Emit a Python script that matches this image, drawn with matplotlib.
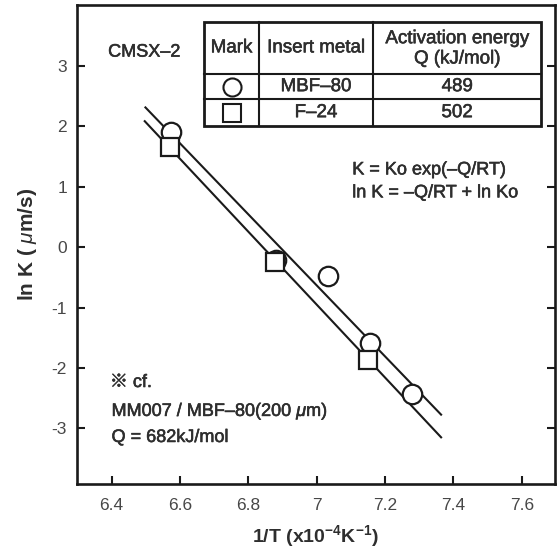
import matplotlib
matplotlib.use('Agg')
import matplotlib.pyplot as plt
import matplotlib.patheffects as pe
import numpy as np

plt.rcParams['font.family'] = ['Liberation Sans', 'Noto Sans CJK JP', 'DejaVu Sans']
plt.rcParams['axes.unicode_minus'] = False
plt.rcParams['mathtext.fontset'] = 'custom'
plt.rcParams['mathtext.rm'] = 'Liberation Sans'
plt.rcParams['mathtext.it'] = 'Liberation Sans:italic'
plt.rcParams['mathtext.bf'] = 'Liberation Sans:bold'

# ---- data ----
mbf_x = [6.573, 6.880, 7.034, 7.156, 7.278]
mbf_y = [1.90, -0.21, -0.48, -1.58, -2.43]
f24_x = [6.571, 6.878, 7.149]
f24_y = [1.66, -0.24, -1.86]

insert_metals = ['MBF–80', 'F–24']
Q_values = [489, 502]            # kJ/mol
lnK0_values = [40.54, 41.316]    # fitted intercepts
fit_x_ranges = [[6.497, 7.366], [6.495, 7.366]]
R_gas = 8.314

x_ticks = [6.4, 6.6, 6.8, 7.0, 7.2, 7.4, 7.6]
x_tick_labels = ['6.4', '6.6', '6.8', '7', '7.2', '7.4', '7.6']
y_ticks = [-3, -2, -1, 0, 1, 2, 3]
y_tick_labels = ['-3', '-2', '-1', '0', '1', '2', '3']

ink = '#1a1a1a'
txt = '#2e2e2e'
tick_c = '#474747'
thick = [pe.withStroke(linewidth=0.4, foreground=txt)]

fig = plt.figure(figsize=(5.58, 5.5), dpi=100)
ax = fig.add_axes([0.1374, 0.12, 0.8572, 0.8709])
ax.set_xlim(6.298, 7.697)
ax.set_ylim(-3.92, 4.01)

# fitted Arrhenius lines
for Q, lnK0, xr in zip(Q_values, lnK0_values, fit_x_ranges):
    xs = np.array(xr)
    ys = -(Q * 1000.0 / R_gas) * xs * 1e-4 + lnK0
    ax.plot(xs, ys, color=ink, lw=1.5, zorder=2, solid_capstyle='butt')

ax.plot(mbf_x, mbf_y, ls='none', marker='o', ms=14, mfc='white', mec=ink, mew=1.6, zorder=3)
ax.plot(f24_x, f24_y, ls='none', marker='s', ms=13, mfc='white', mec=ink, mew=1.6, zorder=4)

# axes styling
for s in ax.spines.values():
    s.set_linewidth(1.9)
    s.set_color(ink)
ax.set_xticks(x_ticks)
ax.set_xticklabels(x_tick_labels)
ax.set_yticks(y_ticks)
ax.set_yticklabels(y_tick_labels)
ax.tick_params(axis='both', direction='in', length=6, width=1.5, color=ink,
               labelsize=12.5, labelcolor=tick_c)
ax.tick_params(axis='y', right=True, pad=7)
ax.tick_params(axis='x', pad=10)

ax.set_xlabel(r'1/T (x10$^{\mathbf{-4}}$K$^{\mathbf{-1}}$)', fontsize=14,
              fontweight='bold', color=txt, labelpad=7)
ax.set_ylabel(r'ln K ( $\mu$m/s)', fontsize=15, fontweight='bold', color=txt, labelpad=9)

# annotations
fs_a = 13
for (x, y, s) in [(6.390, 3.23, 'CMSX–2'),
                  (7.104, 1.28, 'K = Ko exp(–Q/RT)'),
                  (7.104, 0.90, 'ln K = –Q/RT + ln Ko'),
                  (6.395, -2.24, '※ cf.'),
                  (6.400, -2.72, r'MM007 / MBF–80(200 $\mu$m)'),
                  (6.400, -3.15, 'Q = 682kJ/mol')]:
    ax.text(x, y, s, fontsize=fs_a, color=txt, ha='left', va='center', path_effects=thick)

# table (axes coordinates)
tl, c1, c2, tr = 0.2662, 0.3812, 0.6196, 0.9716
tt, r1, r2, tb = 0.9651, 0.8559, 0.8031, 0.7474
T = ax.transAxes
ax.add_patch(plt.Rectangle((tl, tb), tr - tl, tt - tb, transform=T, fill=True,
                           fc='white', ec=ink, lw=2.0, zorder=5))
for yy in (r1, r2):
    ax.plot([tl, tr], [yy, yy], transform=T, color=ink, lw=1.5, zorder=6)
for xx in (c1, c2):
    ax.plot([xx, xx], [tb, tt], transform=T, color=ink, lw=1.5, zorder=6)

fs_t = 13.5
ax.text((tl + c1) / 2, (tt + r1) / 2, 'Mark', transform=T, ha='center', va='center',
        fontsize=fs_t, color=txt, zorder=7, path_effects=thick)
ax.text((c1 + c2) / 2, (tt + r1) / 2, 'Insert metal', transform=T, ha='center', va='center',
        fontsize=fs_t, color=txt, zorder=7, path_effects=thick)
ax.text((c2 + tr) / 2, (tt + r1) / 2 - 0.002, 'Activation energy\nQ (kJ/mol)', transform=T,
        ha='center', va='center', fontsize=fs_t, color=txt, zorder=7, linespacing=1.25,
        path_effects=thick)
row_centers = [(r1 + r2) / 2, (r2 + tb) / 2]
markers = ['o', 's']
for yc, mk, metal, Q in zip(row_centers, markers, insert_metals, Q_values):
    ax.plot([(tl + c1) / 2], [yc], transform=T, marker=mk, ms=13 if mk == 'o' else 12.5,
            mfc='white', mec=ink, mew=1.5, zorder=7, clip_on=False)
    ax.text((c1 + c2) / 2, yc, metal, transform=T, ha='center', va='center',
            fontsize=fs_t, color=txt, zorder=7, path_effects=thick)
    ax.text((c2 + tr) / 2, yc, str(Q), transform=T, ha='center', va='center',
            fontsize=fs_t, color=txt, zorder=7, path_effects=thick)

fig.savefig('out.png', dpi=100)
